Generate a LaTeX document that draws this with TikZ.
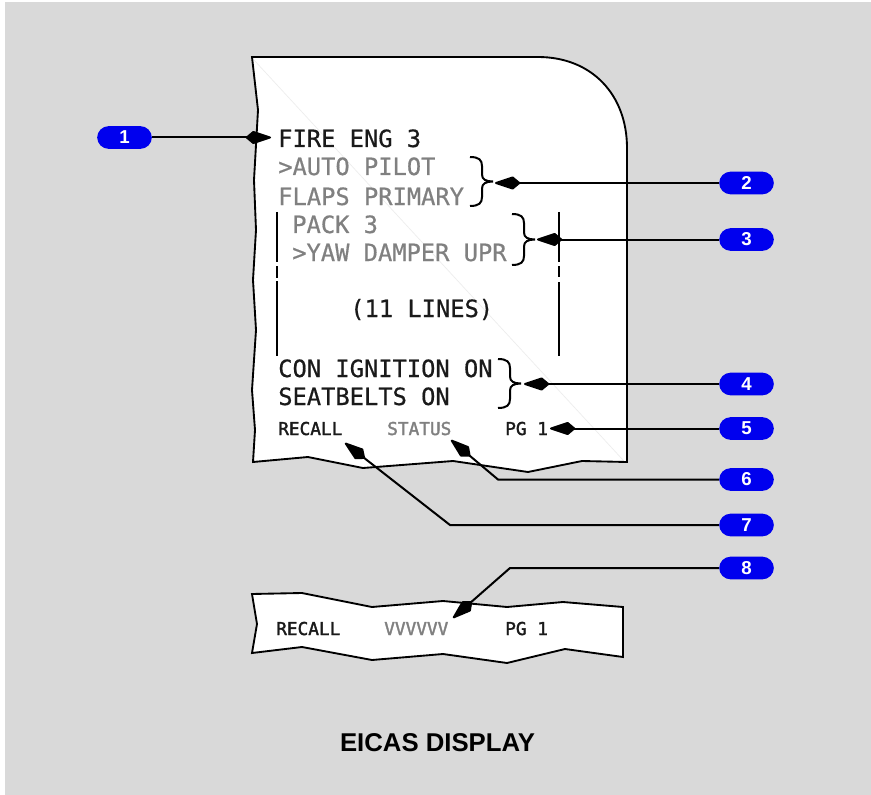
\documentclass[tikz,border=0pt]{standalone}
\usepackage{fontspec}
\setmainfont{Liberation Sans}
\newfontfamily\eicas[FakeBold=0.6]{DejaVu Sans Mono}
\newfontfamily\eicassmall[FakeBold=1.8]{DejaVu Sans Mono}
\usetikzlibrary{arrows.meta}
\definecolor{bgray}{HTML}{D9D9D9}
\definecolor{badgeblue}{RGB}{0,0,238}
\definecolor{dimtext}{HTML}{808080}
\definecolor{ink}{HTML}{1A1A1A}
\newcommand\RBrace[3]{%
  \draw[bracestyle] (#1,#2) .. controls (#1+9,#2) and (#1+12,#2+3) .. (#1+12,#2+9)
    -- (#1+12,{(#2+#3)/2-7})
    .. controls (#1+12,{(#2+#3)/2-2}) and (#1+16,{(#2+#3)/2}) .. (#1+23,{(#2+#3)/2})
    .. controls (#1+16,{(#2+#3)/2}) and (#1+12,{(#2+#3)/2+2}) .. (#1+12,{(#2+#3)/2+7})
    -- (#1+12,#3-9)
    .. controls (#1+12,#3-3) and (#1+9,#3) .. (#1,#3);}
\begin{document}
\begin{tikzpicture}[x=0.75pt,y=-0.75pt,
  badge/.style={fill=badgeblue, rounded corners=8.6pt, minimum width=41pt, minimum height=17pt,
    inner sep=0pt, text=white, font=\fontsize{14}{14}\selectfont\bfseries},
  bigtxt/.style={anchor=base west, inner sep=0pt, font=\eicas\fontsize{17.8}{20}\selectfont},
  smalltxt/.style={anchor=base west, inner sep=0pt, font=\eicassmall\fontsize{13.3}{15}\selectfont},
  callout/.style={line width=1.5pt, line join=miter, -{Kite[length=21pt,width=10pt,inset=6pt,round]}},
  dispoutline/.style={draw=black, line width=1.4pt, fill=white, line join=miter},
  sidebar/.style={line width=1.4pt},
  bracestyle/.style={line width=1.5pt}]
\useasboundingbox (0,0) rectangle (871,795);
\fill[white] (0,0) rectangle (871,795);
\fill[bgray] (5,2) rectangle (871,795);

% main display
\path[dispoutline] (252,57) -- (538,57) .. controls (592,57) and (627,95) .. (627,148)
  -- (627,462) -- (582,461) -- (528,472) -- (453,461) -- (363,468) -- (308,457) -- (253,462)
  -- (255,430) -- (252,390) -- (256,330) -- (253,280) -- (256,230) -- (254,180) -- (258,110) -- cycle;
\draw[black!7, line width=0.5pt] (254,60) -- (623,460);

% lower display strip
\path[dispoutline] (252,594) -- (302,593) -- (372,607) -- (443,601) -- (507,607) -- (563,602) -- (623,607)
  -- (623,657) -- (565,649) -- (507,663) -- (443,654) -- (372,660) -- (302,647) -- (252,653) -- (257,624) -- cycle;

% text
\node[bigtxt, text=ink] (fire) at (278,147) {FIRE ENG 3};
\node[bigtxt, text=dimtext] (auto) at (278,175) {>AUTO PILOT};
\node[bigtxt, text=dimtext] (flaps) at (278,205) {FLAPS PRIMARY};
\node[bigtxt, text=dimtext] (pack) at (292,233) {PACK 3};
\node[bigtxt, text=dimtext] (yaw) at (292,261) {>YAW DAMPER UPR};
\node[bigtxt, text=ink] (lines) at (350,317) {(11 LINES)};
\node[bigtxt, text=ink] (con) at (278,377) {CON IGNITION ON};
\node[bigtxt, text=ink] (seat) at (278,405) {SEATBELTS ON};
\node[smalltxt, text=ink] (recall) at (278,435) {RECALL};
\node[smalltxt, text=dimtext] (status) at (387,435) {STATUS};
\node[smalltxt, text=ink] (pg) at (505,435) {PG 1};
\node[smalltxt, text=ink] (recall2) at (276,635) {RECALL};
\node[smalltxt, text=dimtext] (vvv) at (384,635) {VVVVVV};
\node[smalltxt, text=ink] (pg2) at (505,635) {PG 1};

% side bars
\draw[sidebar] (277,212) -- (277,262) (277,266) -- (277,278) (277,281) -- (277,356);
\draw[sidebar] (559,212) -- (559,262) (559,266) -- (559,277) (559,282) -- (559,356);

% braces
\RBrace{470}{157}{206}
\RBrace{512}{214}{265}
\RBrace{498}{359}{408}

% badges
\node[badge] (b1) at (124.5,137.5) {1};
\node[badge] (b2) at (746.5,183) {2};
\node[badge] (b3) at (746.5,239.5) {3};
\node[badge] (b4) at (746.5,384) {4};
\node[badge] (b5) at (746.5,428.5) {5};
\node[badge] (b6) at (746.5,479.5) {6};
\node[badge] (b7) at (746.5,525) {7};
\node[badge] (b8) at (746.5,568) {8};

% callout targets
\coordinate (t1) at (271,137.5);
\coordinate (t2) at (495,183);
\coordinate (t3) at (537,239.5);
\coordinate (t4) at (524,384);
\coordinate (t5) at (550,428.5);
\coordinate (k6) at (498,479.5);
\coordinate (t6) at (451,440);
\coordinate (k7) at (450,525);
\coordinate (t7) at (345,443);
\coordinate (k8) at (510,568);
\coordinate (t8) at (453,618);

\draw[callout] (b1.east) -- (t1);
\draw[callout] (b2.west) -- (t2);
\draw[callout] (b3.west) -- (t3);
\draw[callout] (b4.west) -- (t4);
\draw[callout] (b5.west) -- (t5);
\draw[callout] (b6.west) -- (k6) -- (t6);
\draw[callout] (b7.west) -- (k7) -- (t7);
\draw[callout] (b8.west) -- (k8) -- (t8);

\node[font=\fontsize{19.3}{20}\selectfont\bfseries] (title) at (437.5,743) {EICAS DISPLAY};
\end{tikzpicture}
\end{document}
